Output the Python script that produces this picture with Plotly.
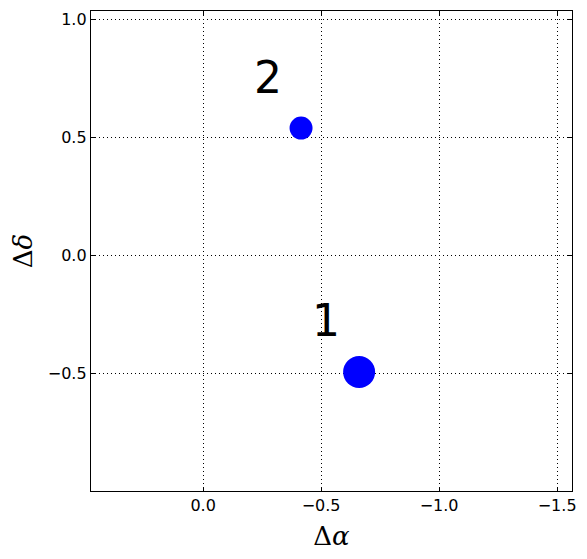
import plotly.graph_objects as go

# source positions (offsets) and their marker sizes
delta_alpha = [-0.661, -0.415]
delta_delta = [-0.496, 0.538]
marker_sizes = [32, 23]
labels = ["1", "2"]
label_x = [-0.521, -0.275]
label_y = [-0.295, 0.732]

x_ticks = [0.0, -0.5, -1.0, -1.5]
y_ticks = [-0.5, 0.0, 0.5, 1.0]
x_range = [0.475, -1.563]
y_range = [-1.0, 1.034]

fig = go.Figure()
fig.add_trace(go.Scatter(
    x=delta_alpha, y=delta_delta, mode="markers",
    marker=dict(size=marker_sizes, color="#0000ff", opacity=1, line=dict(width=0)),
    showlegend=False,
))
fig.add_trace(go.Scatter(
    x=label_x, y=label_y, mode="text", text=labels,
    textfont=dict(size=44, color="black", family="DejaVu Sans"),
    showlegend=False,
))

axis_style = dict(
    showline=True, linecolor="black", linewidth=1.3, mirror="ticks",
    ticks="inside", ticklen=4, tickcolor="black",
    showgrid=True, gridcolor="black", gridwidth=1, griddash="1px,3px",
    zeroline=False,
    tickfont=dict(family="DejaVu Sans", size=16, color="black"),
    tickformat=".1f",
)

fig.update_xaxes(
    range=x_range, tickvals=x_ticks, autorange=False,
    title=dict(text="Δ<i>α</i>", font=dict(family="DejaVu Serif", size=26, color="black"), standoff=12),
    **axis_style,
)
fig.update_yaxes(
    range=y_range, tickvals=y_ticks,
    title=dict(text="Δ<i>δ</i>", font=dict(family="DejaVu Serif", size=26, color="black"), standoff=12),
    **axis_style,
)

# the page body adds an 8px margin, so the figure is shrunk to fit the window
fig.update_layout(
    width=579, height=551,
    margin=dict(l=83, r=15, t=3, b=68),
    plot_bgcolor="white", paper_bgcolor="white",
)

fig.write_html("out.html")
